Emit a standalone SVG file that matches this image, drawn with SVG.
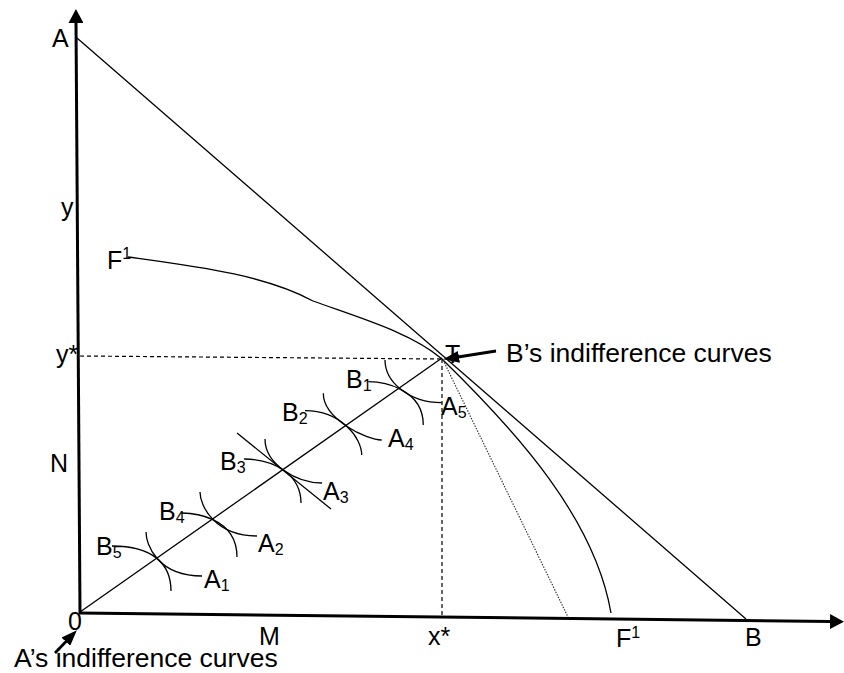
<svg xmlns="http://www.w3.org/2000/svg" width="844" height="673" viewBox="0 0 844 673">
<defs>
<marker id="ah" viewBox="0 0 14 15" refX="1" refY="7.5" markerWidth="14" markerHeight="15" markerUnits="userSpaceOnUse" orient="auto"><path d="M0,0 L14,7.5 L0,15 z" fill="#000"/></marker>
<marker id="ahs" viewBox="0 0 16 12" refX="1" refY="6" markerWidth="16" markerHeight="12" markerUnits="userSpaceOnUse" orient="auto"><path d="M0,0 L16,6 L0,12 z" fill="#000"/></marker>
</defs>
<style>
.lbl{font-family:"Liberation Sans",Arial,sans-serif;font-size:25px;fill:#000}
.big{font-size:26.5px}
.sub{font-size:16px}
.thin{fill:none;stroke:#000;stroke-width:1.3}
.axis{stroke:#000;stroke-width:3;fill:none}
.dash{stroke:#000;stroke-width:1.2;stroke-dasharray:4 3;fill:none}
.dot{stroke:#333;stroke-width:1.2;stroke-dasharray:1.4 1.4;fill:none}
.ptr{stroke:#000;stroke-width:2.8;fill:none}
</style>
<rect width="844" height="673" fill="#fff"/>
<g id="connectors">
  <line id="y-axis" class="axis" x1="80" y1="613" x2="76" y2="22" marker-end="url(#ah)"/>
  <line id="x-axis" class="axis" x1="79" y1="613" x2="831" y2="621.5" marker-end="url(#ah)"/>
  <line id="budget-AB" class="thin" x1="77" y1="38" x2="746" y2="619"/>
  <line id="diagonal-OT" class="thin" x1="80" y1="612" x2="442" y2="358"/>
  <path id="F1-upper" class="thin" d="M128,257 C200,267 265,275 313,301 C360,318 412,333 442,359"/>
  <path id="F1-lower" class="thin" d="M442,359 C520,435 595,520 611,613"/>
  <line id="dotted-T" class="dot" x1="443" y1="360" x2="568" y2="617"/>
  <line id="ystar-dash" class="dash" x1="80" y1="356" x2="442" y2="359"/>
  <line id="xstar-dash" class="dash" x1="442" y1="359" x2="442" y2="617"/>
  <line id="ptr-B" class="ptr" x1="496" y1="351" x2="458" y2="357" marker-end="url(#ahs)"/>
  <line id="ptr-A" class="ptr" x1="55" y1="653" x2="66.5" y2="641" marker-end="url(#ahs)"/>
  <line id="tangent-3" class="thin" x1="237" y1="433" x2="331" y2="509"/>
</g>
<g id="pair-1">
  <path class="thin" d="M368.3,381.7 C382.2,381.7 423.3,388.2 423.3,425"/>
  <path class="thin" d="M385,360 C385,381.9 408.9,402.7 441.7,402.7"/>
</g>
<g id="pair-2">
  <path class="thin" d="M305,410.7 C341.5,410.7 361.7,438.2 361.7,455"/>
  <path class="thin" d="M323.3,393.3 C323.3,419.4 367,440 381.7,440"/>
</g>
<g id="pair-3">
  <path class="thin" d="M244,459 C274.7,459 301,475 301,503"/>
  <path class="thin" d="M265,439 C265,464.3 296.7,483 322,483"/>
</g>
<g id="pair-4">
  <path class="thin" d="M182,513 C191,513 237,516 237,557"/>
  <path class="thin" d="M200,492 C200,506.7 215.7,536 257,536"/>
</g>
<g id="pair-5">
  <path class="thin" d="M112,546 C153,546 171,564 171,591"/>
  <path class="thin" d="M146,532 C146,544 157,576 202,576"/>
</g>
<g id="labels">
  <text id="lbl-A" class="lbl" x="52" y="47">A</text>
  <text id="lbl-y" class="lbl" x="61" y="216">y</text>
  <text id="lbl-F1-top" class="lbl" x="107" y="269">F<tspan class="sub" dy="-10">1</tspan></text>
  <text id="lbl-ystar" class="lbl" x="56" y="363">y*</text>
  <text id="lbl-N" class="lbl" x="50" y="472">N</text>
  <text id="lbl-O" class="lbl" x="68" y="630">0</text>
  <text id="lbl-M" class="lbl" x="259" y="645">M</text>
  <text id="lbl-xstar" class="lbl" x="428" y="645">x*</text>
  <text id="lbl-F1-bottom" class="lbl" x="616" y="647">F<tspan class="sub" dy="-9">1</tspan></text>
  <text id="lbl-B" class="lbl" x="745" y="646">B</text>
  <text id="lbl-T" class="lbl" x="445" y="363">T</text>
  <text id="lbl-Bcurves" class="lbl big" x="506" y="362">B’s indifference curves</text>
  <text id="lbl-Acurves" class="lbl big" x="14" y="667">A’s indifference curves</text>
  <text class="lbl" x="346" y="388">B<tspan class="sub" dy="3">1</tspan></text>
  <text class="lbl" x="441" y="415">A<tspan class="sub" dy="3">5</tspan></text>
  <text class="lbl" x="282" y="421">B<tspan class="sub" dy="3">2</tspan></text>
  <text class="lbl" x="388" y="447">A<tspan class="sub" dy="3">4</tspan></text>
  <text class="lbl" x="220" y="470">B<tspan class="sub" dy="3">3</tspan></text>
  <text class="lbl" x="323" y="500">A<tspan class="sub" dy="3">3</tspan></text>
  <text class="lbl" x="159" y="520">B<tspan class="sub" dy="3">4</tspan></text>
  <text class="lbl" x="258" y="552">A<tspan class="sub" dy="3">2</tspan></text>
  <text class="lbl" x="96" y="555">B<tspan class="sub" dy="3">5</tspan></text>
  <text class="lbl" x="204" y="588">A<tspan class="sub" dy="3">1</tspan></text>
</g>
</svg>
